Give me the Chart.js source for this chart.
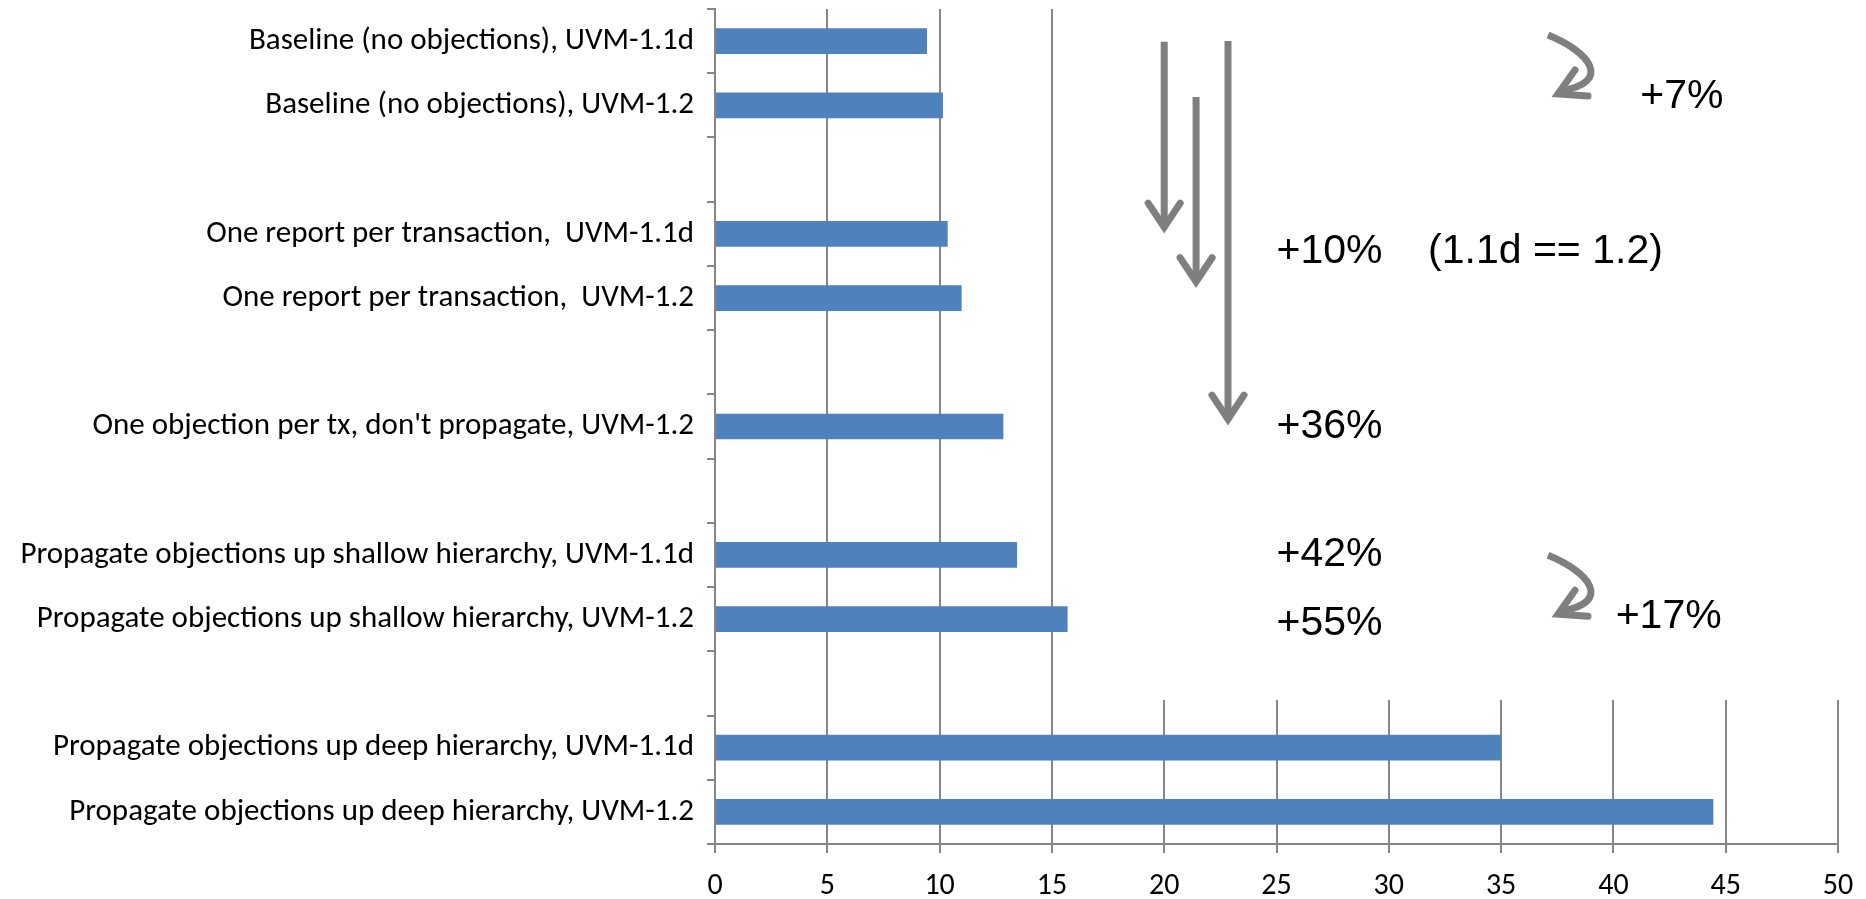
<!DOCTYPE html>
<html>
<head>
<meta charset="utf-8">
<script src="https://cdn.jsdelivr.net/npm/chart.js@4/dist/chart.umd.min.js"></script>
<style>
  html, body { margin: 0; padding: 0; background: #ffffff; }
  #wrap { width: 1866px; height: 899px; }
</style>
</head>
<body>
<div id="wrap"><canvas id="c" width="1866" height="899"></canvas></div>
<script>
// Test configurations (empty strings are spacer rows between groups)
const categories = [
  "Baseline (no objections), UVM-1.1d",
  "Baseline (no objections), UVM-1.2",
  "",
  "One report per transaction,  UVM-1.1d",
  "One report per transaction,  UVM-1.2",
  "",
  "One objection per tx, don't propagate, UVM-1.2",
  "",
  "Propagate objections up shallow hierarchy, UVM-1.1d",
  "Propagate objections up shallow hierarchy, UVM-1.2",
  "",
  "Propagate objections up deep hierarchy, UVM-1.1d",
  "Propagate objections up deep hierarchy, UVM-1.2"
];

// Run time per configuration
const runTimes = [9.44, 10.15, null, 10.36, 10.98, null, 12.84, null, 13.45, 15.70, null, 35.0, 44.45];

// Value axis range
const axisMin = 0;
const axisMax = 50;
const axisStep = 5;

// Overhead call-outs: value-axis position and row position
const noteTexts = ["+7%", "+10%    (1.1d == 1.2)", "+36%", "+42%", "+55%", "+17%"];
const noteX     = [41.2, 25.0, 25.0, 25.0, 25.0, 40.1];
const noteRow   = [0.86, 3.28, 6.01, 7.99, 9.07, 8.96];

// Straight downward arrows: x value, start row, tip row
const arrowX    = [20.0, 21.42, 22.84];
const arrowFrom = [0.01, 0.87, 0.0];
const arrowTo   = [3.02, 3.87, 6.01];

// Curved arrows: tip position (x value, row)
const curveX   = [37.4, 37.4];
const curveRow = [0.87, 8.97];

// Opaque panel behind the call-outs (x value from, row to)
const panelFromX = 18.6;
const panelToRow = 10.26;

const labelFont = "Carlito, Lato, 'Liberation Sans', sans-serif";
const noteFont = "'Liberation Sans', Arial, sans-serif";
const axisGray = '#868686';
const arrowGray = '#7f7f7f';

const callouts = {
  id: 'callouts',
  beforeDatasetsDraw(chart) {
    const { ctx } = chart;
    const xs = chart.scales.x, ys = chart.scales.y;
    const left = xs.getPixelForValue(panelFromX);
    const bottom = ys.getPixelForValue(panelToRow);
    ctx.save();
    ctx.fillStyle = '#ffffff';
    ctx.fillRect(left, 0, chart.width - left, bottom);
    ctx.restore();
  },
  afterDraw(chart) {
    const { ctx } = chart;
    const xs = chart.scales.x, ys = chart.scales.y;
    ctx.save();
    ctx.strokeStyle = arrowGray;
    ctx.lineWidth = 7;

    // straight arrows
    arrowX.forEach((v, i) => {
      const px = xs.getPixelForValue(v);
      const y0 = ys.getPixelForValue(arrowFrom[i]);
      const y1 = ys.getPixelForValue(arrowTo[i]);
      ctx.lineCap = 'butt';
      ctx.beginPath();
      ctx.moveTo(px, y0);
      ctx.lineTo(px, y1 - 8);
      ctx.stroke();
      ctx.lineCap = 'round';
      ctx.lineJoin = 'miter';
      ctx.beginPath();
      ctx.moveTo(px - 16, y1 - 32);
      ctx.lineTo(px, y1 - 8);
      ctx.lineTo(px + 16, y1 - 32);
      ctx.stroke();
    });

    // curved arrows
    curveX.forEach((v, i) => {
      const tx = xs.getPixelForValue(v);
      const ty = ys.getPixelForValue(curveRow[i]);
      ctx.lineCap = 'butt';
      ctx.beginPath();
      ctx.moveTo(tx - 7, ty - 62);
      ctx.bezierCurveTo(tx + 35, ty - 45, tx + 58, ty - 15, tx + 6, ty - 6);
      ctx.stroke();
      ctx.lineCap = 'round';
      ctx.lineJoin = 'miter';
      ctx.beginPath();
      ctx.moveTo(tx + 20, ty - 27);
      ctx.lineTo(tx + 3, ty - 3);
      ctx.lineTo(tx + 33, ty - 1);
      ctx.stroke();
    });

    // percentage notes
    ctx.fillStyle = '#000000';
    ctx.font = "41px " + noteFont;
    ctx.textAlign = 'left';
    ctx.textBaseline = 'middle';
    noteTexts.forEach((t, i) => {
      ctx.fillText(t, xs.getPixelForValue(noteX[i]), ys.getPixelForValue(noteRow[i]));
    });
    ctx.restore();
  }
};

new Chart(document.getElementById('c'), {
  type: 'bar',
  data: {
    labels: categories,
    datasets: [{
      data: runTimes,
      backgroundColor: '#4F81BD',
      borderWidth: 0,
      barPercentage: 0.40,
      categoryPercentage: 1.0
    }]
  },
  options: {
    indexAxis: 'y',
    responsive: false,
    devicePixelRatio: 1,
    animation: false,
    layout: { padding: { top: 9, right: 28, left: 0, bottom: 0 } },
    plugins: { legend: { display: false }, tooltip: { enabled: false } },
    scales: {
      x: {
        type: 'linear',
        min: axisMin,
        max: axisMax,
        ticks: { stepSize: axisStep, color: '#000', font: { family: labelFont, size: 30 }, padding: 15 },
        grid: { color: axisGray, lineWidth: 2, drawTicks: true, tickLength: 9, tickColor: axisGray },
        border: { display: true, color: axisGray, width: 2 },
        afterFit(s) { s.height = 55; s.paddingLeft = 0; s.paddingRight = 0; }
      },
      y: {
        type: 'category',
        offset: true,
        ticks: { color: '#000', font: { family: labelFont, size: 31 }, padding: 13, autoSkip: false },
        grid: { offset: true, drawOnChartArea: false, drawTicks: true, tickLength: 8, color: axisGray, lineWidth: 2 },
        border: { display: true, color: axisGray, width: 2 },
        afterFit(s) { s.width = 715; s.paddingTop = 0; s.paddingBottom = 0; }
      }
    }
  },
  plugins: [callouts]
});
</script>
</body>
</html>
